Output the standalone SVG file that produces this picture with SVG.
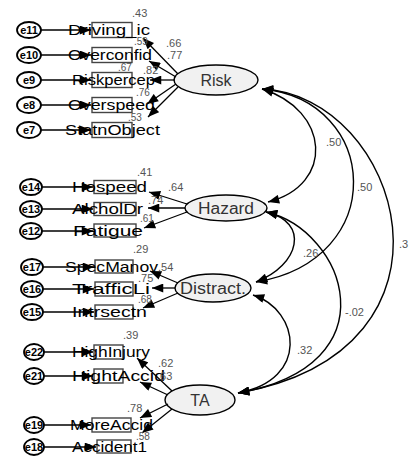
<svg xmlns="http://www.w3.org/2000/svg" width="410" height="458" viewBox="0 0 410 458">
<defs>
<marker id="ah" viewBox="0 0 10 8" refX="10" refY="4" markerWidth="12" markerHeight="9" markerUnits="userSpaceOnUse" orient="auto-start-reverse">
<path d="M0,0 L10,4 L0,8 Z" fill="#000"/>
</marker>
</defs>
<style>
.err{fill:#fff;stroke:#000;stroke-width:1.8}
.et{font-family:"Liberation Sans",Arial,sans-serif;font-size:11px;font-weight:bold;fill:#000;text-anchor:middle}
.box{fill:#fff;stroke:#444;stroke-width:1.4}
.bt{font-family:"Liberation Sans",Arial,sans-serif;font-size:14px;fill:#000}
.lat{fill:#f1f1f1;stroke:#000;stroke-width:1.4}
.lt{font-family:"Liberation Sans",Arial,sans-serif;font-size:16px;fill:#333;text-anchor:middle}
.num{font-family:"Liberation Sans",Arial,sans-serif;font-size:11px;fill:#555}
.sm{font-size:10px}
.ar{fill:none;stroke:#000;stroke-width:1.3;marker-end:url(#ah)}
.cv{fill:none;stroke:#000;stroke-width:1.4;marker-start:url(#ah);marker-end:url(#ah)}
</style>
<rect width="410" height="458" fill="#fff"/>

<!-- error terms -->
<g id="e11"><ellipse class="err" cx="29" cy="30" rx="12" ry="8"/><text class="et" x="29" y="34">e11</text></g>
<g id="e10"><ellipse class="err" cx="29" cy="55" rx="12" ry="8"/><text class="et" x="29" y="59">e10</text></g>
<g id="e9"><ellipse class="err" cx="29" cy="80" rx="12" ry="8"/><text class="et" x="29" y="84">e9</text></g>
<g id="e8"><ellipse class="err" cx="29" cy="105" rx="12" ry="8"/><text class="et" x="29" y="109">e8</text></g>
<g id="e7"><ellipse class="err" cx="29" cy="130" rx="12" ry="8"/><text class="et" x="29" y="134">e7</text></g>
<g id="e14"><ellipse class="err" cx="31" cy="187" rx="11" ry="8"/><text class="et" x="31" y="191">e14</text></g>
<g id="e13"><ellipse class="err" cx="31" cy="209" rx="11" ry="8"/><text class="et" x="31" y="213">e13</text></g>
<g id="e12"><ellipse class="err" cx="31" cy="231" rx="11" ry="8"/><text class="et" x="31" y="235">e12</text></g>
<g id="e17"><ellipse class="err" cx="32" cy="267" rx="11" ry="8"/><text class="et" x="32" y="271">e17</text></g>
<g id="e16"><ellipse class="err" cx="32" cy="289" rx="11" ry="8"/><text class="et" x="32" y="293">e16</text></g>
<g id="e15"><ellipse class="err" cx="32" cy="312" rx="11" ry="8"/><text class="et" x="32" y="316">e15</text></g>
<g id="e22"><ellipse class="err" cx="34" cy="352" rx="10" ry="8"/><text class="et" x="34" y="356">e22</text></g>
<g id="e21"><ellipse class="err" cx="34" cy="376" rx="10" ry="8"/><text class="et" x="34" y="380">e21</text></g>
<g id="e19"><ellipse class="err" cx="34" cy="425" rx="10" ry="8"/><text class="et" x="34" y="429">e19</text></g>
<g id="e18"><ellipse class="err" cx="34" cy="447" rx="10" ry="8"/><text class="et" x="34" y="451">e18</text></g>

<!-- observed variables -->
<g id="Driving"><rect class="box" x="92" y="22.5" width="40" height="15"/><text class="bt" x="68" y="35" textLength="82" lengthAdjust="spacingAndGlyphs">Driving_ic</text></g>
<g id="Overconf"><rect class="box" x="92" y="47.5" width="40" height="15"/><text class="bt" x="68" y="60" textLength="84" lengthAdjust="spacingAndGlyphs">Overconfid</text></g>
<g id="Riskpercep"><rect class="box" x="92" y="72.5" width="40" height="15"/><text class="bt" x="72" y="85" textLength="83" lengthAdjust="spacingAndGlyphs">Riskpercep</text></g>
<g id="Overspeed"><rect class="box" x="92" y="97.5" width="40" height="15"/><text class="bt" x="68" y="110" textLength="87" lengthAdjust="spacingAndGlyphs">Overspeed</text></g>
<g id="StatnObject"><rect class="box" x="92" y="122.5" width="40" height="15"/><text class="bt" x="65" y="135" textLength="95" lengthAdjust="spacingAndGlyphs">StatnObject</text></g>

<g id="Hospeed"><rect class="box" x="94" y="180.5" width="42" height="13"/><text class="bt" x="72" y="192" textLength="75" lengthAdjust="spacingAndGlyphs">Hospeed</text></g>
<g id="AlcholDr"><rect class="box" x="94" y="202.5" width="42" height="13"/><text class="bt" x="72" y="214" textLength="71" lengthAdjust="spacingAndGlyphs">AlcholDr</text></g>
<g id="Fatigue"><rect class="box" x="94" y="224" width="42" height="13"/><text class="bt" x="73" y="235.5" textLength="70" lengthAdjust="spacingAndGlyphs">Fatigue</text></g>

<g id="SpecManov"><rect class="box" x="95" y="260" width="38" height="13"/><text class="bt" x="65" y="271.5" textLength="93" lengthAdjust="spacingAndGlyphs">SpecManov</text></g>
<g id="TrafficLi"><rect class="box" x="95" y="282" width="38" height="14"/><text class="bt" x="72" y="294" textLength="78" lengthAdjust="spacingAndGlyphs">TrafficLi</text></g>
<g id="Intrsectn"><rect class="box" x="95" y="305" width="38" height="14"/><text class="bt" x="72" y="317" textLength="75" lengthAdjust="spacingAndGlyphs">Intrsectn</text></g>

<g id="HighInjury"><rect class="box" x="94" y="345" width="29" height="14"/><text class="bt" x="72" y="357" textLength="78" lengthAdjust="spacingAndGlyphs">HighInjury</text></g>
<g id="HightAccid"><rect class="box" x="94" y="369" width="29" height="14"/><text class="bt" x="72" y="381" textLength="93" lengthAdjust="spacingAndGlyphs">HightAccid</text></g>
<g id="MoreAccid"><rect class="box" x="92" y="418" width="39" height="14"/><text class="bt" x="70" y="430" textLength="83" lengthAdjust="spacingAndGlyphs">MoreAccid</text></g>
<g id="Accident1"><rect class="box" x="97" y="440" width="34" height="13"/><text class="bt" x="72" y="451.5" textLength="75" lengthAdjust="spacingAndGlyphs">Accident1</text></g>

<!-- latent variables -->
<g id="Risk"><ellipse class="lat" cx="216" cy="80" rx="42" ry="15"/><text class="lt" x="216" y="86">Risk</text></g>
<g id="Hazard"><ellipse class="lat" cx="226" cy="208" rx="41" ry="13"/><text class="lt" x="226" y="214" textLength="56" lengthAdjust="spacingAndGlyphs">Hazard</text></g>
<g id="Distract"><ellipse class="lat" cx="213" cy="288" rx="38" ry="14"/><text class="lt" x="213" y="294" textLength="66" lengthAdjust="spacingAndGlyphs">Distract.</text></g>
<g id="TA"><ellipse class="lat" cx="200" cy="400" rx="35" ry="15"/><text class="lt" x="200" y="406">TA</text></g>

<!-- connectors -->
<g id="connectors">
<line class="ar" x1="41" y1="30" x2="91" y2="30"/>
<line class="ar" x1="41" y1="55" x2="91" y2="55"/>
<line class="ar" x1="41" y1="80" x2="91" y2="80"/>
<line class="ar" x1="41" y1="105" x2="91" y2="105"/>
<line class="ar" x1="41" y1="130" x2="91" y2="130"/>
<line class="ar" x1="42" y1="187" x2="93" y2="187"/>
<line class="ar" x1="42" y1="209" x2="93" y2="209"/>
<line class="ar" x1="42" y1="231" x2="93" y2="231"/>
<line class="ar" x1="43" y1="267" x2="94" y2="267"/>
<line class="ar" x1="43" y1="289" x2="94" y2="289"/>
<line class="ar" x1="43" y1="312" x2="94" y2="312"/>
<line class="ar" x1="44" y1="352" x2="93" y2="352"/>
<line class="ar" x1="44" y1="376" x2="93" y2="376"/>
<line class="ar" x1="44" y1="425" x2="91" y2="425"/>
<line class="ar" x1="44" y1="447" x2="96" y2="447"/>

<line class="ar" x1="178" y1="74" x2="143" y2="38"/>
<line class="ar" x1="176" y1="77" x2="149" y2="61"/>
<line class="ar" x1="175" y1="80" x2="150" y2="80"/>
<line class="ar" x1="176" y1="84" x2="147" y2="104"/>
<line class="ar" x1="178" y1="87" x2="148" y2="117"/>

<line class="ar" x1="187" y1="204" x2="149" y2="192"/>
<line class="ar" x1="185" y1="208" x2="148" y2="208"/>
<line class="ar" x1="187" y1="212" x2="144" y2="228"/>

<line class="ar" x1="178" y1="283" x2="150" y2="271"/>
<line class="ar" x1="175" y1="288" x2="152" y2="288"/>
<line class="ar" x1="178" y1="293" x2="143" y2="308"/>

<line class="ar" x1="172" y1="391" x2="137" y2="358"/>
<line class="ar" x1="168" y1="395" x2="140" y2="382"/>
<line class="ar" x1="168" y1="404" x2="140" y2="418"/>
<line class="ar" x1="172" y1="409" x2="142" y2="433"/>

<path class="cv" d="M262,89 C330,110 335,185 268,202"/>
<path class="cv" d="M262,89 C380,100 390,260 256,282"/>
<path class="cv" d="M262,89 C400,95 480,350 238,393"/>
<path class="cv" d="M266,212 C310,222 300,265 256,282"/>
<path class="cv" d="M266,212 C345,230 395,365 238,393"/>
<path class="cv" d="M253,295 C300,310 310,380 238,393"/>
</g>

<!-- coefficients -->
<g id="coefficients">
<text class="num" x="132" y="17">.43</text>
<text class="num sm" x="134" y="45">.59</text>
<text class="num" x="166" y="47">.66</text>
<text class="num" x="167" y="59">.77</text>
<text class="num sm" x="118" y="71">.67</text>
<text class="num" x="143" y="74">.82</text>
<text class="num sm" x="136" y="96">.76</text>
<text class="num sm" x="128" y="121">.53</text>
<text class="num" x="137" y="176">.41</text>
<text class="num" x="168" y="191">.64</text>
<text class="num" x="148" y="204">.74</text>
<text class="num sm" x="140" y="222">.61</text>
<text class="num" x="133" y="253">.29</text>
<text class="num" x="158" y="271">.54</text>
<text class="num" x="138" y="282">.75</text>
<text class="num sm" x="138" y="303">.68</text>
<text class="num" x="123" y="339">.39</text>
<text class="num" x="158" y="367">.62</text>
<text class="num" x="157" y="380">.63</text>
<text class="num" x="127" y="412">.78</text>
<text class="num sm" x="136" y="440">.58</text>
<text class="num" x="326" y="146">.50</text>
<text class="num" x="357" y="191">.50</text>
<text class="num" x="399" y="248">.3</text>
<text class="num" x="303" y="257">.26</text>
<text class="num" x="345" y="316">-.02</text>
<text class="num" x="297" y="354">.32</text>
</g>
</svg>
